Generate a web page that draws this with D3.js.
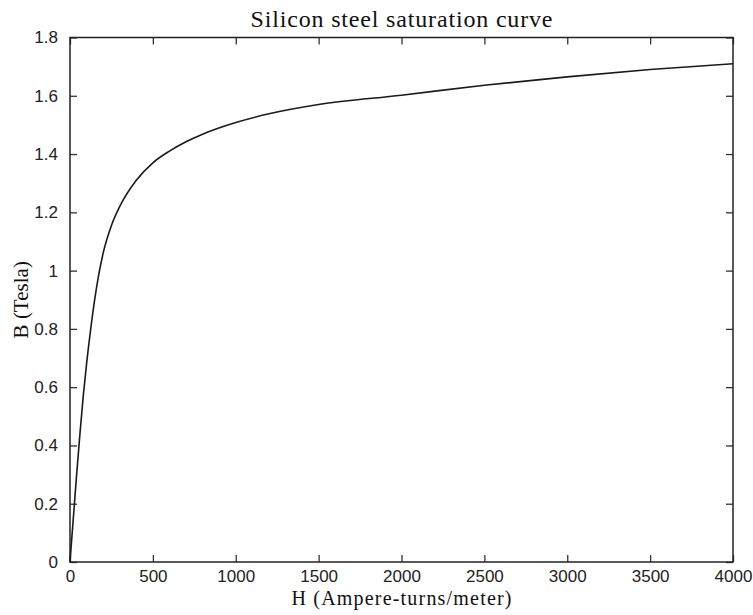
<!DOCTYPE html>
<html>
<head>
<meta charset="utf-8">
<script src="https://cdn.jsdelivr.net/npm/d3@7"></script>
<style>
    body { margin: 0; background: #fff; }
    .tick text { font-family: "Liberation Sans", Arial, sans-serif; font-size: 17px; fill: #222; }
    .label { font-family: "Liberation Serif", "Times New Roman", serif; fill: #111; }
</style>
</head>
<body>
<div id="chart"></div>
<script>
'use strict';

// saturation curve
const h_values = [0, 20, 40, 60, 80, 100, 125, 150, 200, 250, 300, 400, 500, 600, 700, 800, 1000, 1200, 1500, 2000, 2500, 3000, 3500, 4000];
const b_values = [0, 0.15, 0.3, 0.44, 0.57, 0.68, 0.80, 0.905, 1.06, 1.155, 1.22, 1.31, 1.37, 1.41, 1.442, 1.468, 1.508, 1.538, 1.57, 1.602, 1.636, 1.665, 1.69, 1.71];

const x_ticks = [0, 500, 1000, 1500, 2000, 2500, 3000, 3500, 4000];
const y_ticks = [0, 0.2, 0.4, 0.6, 0.8, 1, 1.2, 1.4, 1.6, 1.8];

const title = 'Silicon steel saturation curve';
const x_label = 'H (Ampere-turns/meter)';
const y_label = 'B (Tesla)';


function draw_chart(id) {
    let dim = {
        width: 753,
        height: 615,
        top: 37.5,
        left: 70,
        right: 20,
        bottom: 53,
        tick: 7
    };
    dim.chartwidth = dim.width - dim.left - dim.right;
    dim.chartheight = dim.height - dim.top - dim.bottom;

    let dataset = h_values.map((h, i) => ({ h: h, b: b_values[i] }));

    let svg = d3.select(id)
        .append('svg')
        .attr('width', dim.width)
        .attr('height', dim.height);

    let g = svg.append('g')
        .attr('transform', 'translate(' + dim.left + ',' + dim.top + ')');

    const xScale = d3.scaleLinear()
        .domain([0, 4000])
        .range([0, dim.chartwidth]);

    const yScale = d3.scaleLinear()
        .domain([0, 1.8])
        .range([dim.chartheight, 0]);

    // bottom / left axes with labels, ticks pointing inward
    let xaxis = g.append('g')
        .attr('transform', `translate(0, ${dim.chartheight})`)
        .call(d3.axisBottom(xScale).tickValues(x_ticks).tickSize(-dim.tick).tickPadding(11).tickFormat(d3.format('d')));

    let yaxis = g.append('g')
        .call(d3.axisLeft(yScale).tickValues(y_ticks).tickSize(-dim.tick).tickPadding(12).tickFormat(d3.format('~g')));

    // top / right mirror ticks
    let xtop = g.append('g')
        .call(d3.axisTop(xScale).tickValues(x_ticks).tickSize(-dim.tick).tickFormat(''));

    let yright = g.append('g')
        .attr('transform', `translate(${dim.chartwidth}, 0)`)
        .call(d3.axisRight(yScale).tickValues(y_ticks).tickSize(-dim.tick).tickFormat(''));

    [xaxis, yaxis, xtop, yright].forEach(function(a) {
        a.select('.domain').remove();
        a.selectAll('.tick line').attr('stroke', '#333').attr('stroke-width', 1.3);
    });

    xaxis.selectAll('.tick text').attr('dy', '0.55em');

    // frame
    g.append('rect')
        .attr('width', dim.chartwidth)
        .attr('height', dim.chartheight)
        .attr('fill', 'none')
        .attr('stroke', '#222')
        .attr('stroke-width', 1.5);

    const line = d3.line()
        .x((d) => xScale(d.h))
        .y((d) => yScale(d.b))
        .curve(d3.curveMonotoneX);

    g.append('path')
        .datum(dataset)
        .attr('d', line)
        .attr('fill', 'none')
        .attr('stroke', '#1a1a1a')
        .attr('stroke-width', 1.6);

    // texts
    svg.append('text')
        .attr('class', 'label')
        .attr('x', dim.left + dim.chartwidth / 2)
        .attr('y', 27)
        .attr('text-anchor', 'middle')
        .attr('font-size', 24)
        .attr('textLength', 302)
        .text(title);

    svg.append('text')
        .attr('class', 'label')
        .attr('x', dim.left + dim.chartwidth / 2)
        .attr('y', 605)
        .attr('text-anchor', 'middle')
        .attr('font-size', 20)
        .attr('textLength', 220)
        .text(x_label);

    svg.append('text')
        .attr('class', 'label')
        .attr('transform', 'translate(28,' + (dim.top + dim.chartheight / 2) + ') rotate(-90)')
        .attr('text-anchor', 'middle')
        .attr('font-size', 21)
        .text(y_label);
}

draw_chart('#chart');
</script>
</body>
</html>
